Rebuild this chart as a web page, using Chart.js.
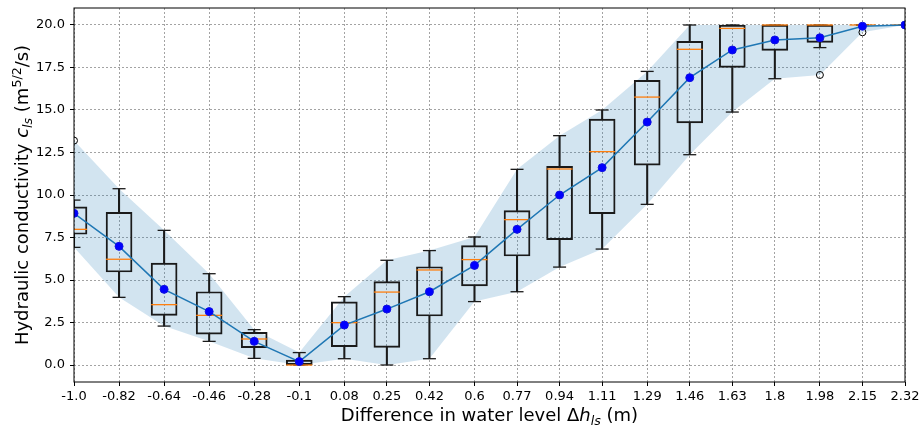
<!DOCTYPE html>
<html>
<head>
<meta charset="utf-8">
<script src="https://cdn.jsdelivr.net/npm/chart.js@4.4.1/dist/chart.umd.min.js"></script>
<style>
  html, body { margin: 0; padding: 0; background: #fff; }
  #wrap { width: 921px; height: 427px; }
</style>
</head>
<body>
<div id="wrap"><canvas id="chartCond"></canvas></div>
<script>
// valores del eje x (diferencia de nivel) y sus etiquetas
const xVals = [-1.0, -0.82, -0.64, -0.46, -0.28, -0.1, 0.08, 0.25, 0.42, 0.6, 0.77, 0.94, 1.11, 1.29, 1.46, 1.63, 1.8, 1.98, 2.15, 2.32];
const xLabels = ['-1.0', '-0.82', '-0.64', '-0.46', '-0.28', '-0.1', '0.08', '0.25', '0.42', '0.6', '0.77', '0.94', '1.11', '1.29', '1.46', '1.63', '1.8', '1.98', '2.15', '2.32'];
const yTicks = [0, 2.5, 5, 7.5, 10, 12.5, 15, 17.5, 20];

// cajas (boxplot)
const q1 = [7.69, 5.47, 2.92, 1.82, 1.02, 0.0, 1.08, 1.04, 2.88, 4.65, 6.41, 7.37, 8.9, 11.76, 14.24, 17.5, 18.51, 18.98, 20, 20];
const q3 = [9.3, 8.98, 6.0, 4.31, 1.92, 0.29, 3.71, 4.9, 5.78, 7.02, 9.08, 11.69, 14.47, 16.74, 19.04, 20, 20, 20, 20, 20];
const medians = [7.98, 6.22, 3.55, 2.92, 1.53, 0.0, 2.49, 4.29, 5.59, 6.2, 8.55, 11.53, 12.55, 15.76, 18.57, 19.8, 20, 20, 20, 20];
const whiskLo = [6.92, 3.98, 2.29, 1.39, 0.39, 0.0, 0.37, 0.0, 0.37, 3.73, 4.31, 5.76, 6.82, 9.45, 12.37, 14.88, 16.84, 18.67, 20, 20];
const whiskHi = [9.7, 10.37, 7.92, 5.37, 2.08, 0.73, 4.02, 6.16, 6.73, 7.53, 11.51, 13.49, 15.0, 17.27, 20, 20, 20, 20, 20, 20];
const outX = [-1.0, 1.98, 2.15];
const outY = [13.2, 17.06, 19.57];

// media y banda min-max
const means = [8.92, 6.98, 4.45, 3.14, 1.39, 0.2, 2.35, 3.29, 4.31, 5.86, 7.98, 10.0, 11.61, 14.29, 16.9, 18.53, 19.12, 19.25, 19.93, 20];
const bandHi = [13.2, 10.37, 7.92, 5.37, 2.08, 0.73, 4.02, 6.16, 6.73, 7.53, 11.51, 13.49, 15.0, 17.27, 20, 20, 20, 20, 20, 20];
const bandLo = [6.92, 3.98, 2.29, 1.39, 0.39, 0.0, 0.37, 0.0, 0.37, 3.73, 4.31, 5.76, 6.82, 9.45, 12.37, 14.88, 16.84, 17.06, 19.57, 20];

const pts = arr => xVals.map((x, i) => ({ x: x, y: arr[i] }));
const spans = (a, b) => xVals.map((x, i) => ({ x: x, y: [a[i], b[i]] }));

const FONT = '"DejaVu Sans", "Liberation Sans", sans-serif';

// texto con cursiva / subíndices / superíndices
function drawRich(ctx, segs, cx, cy, rot) {
    ctx.save();
    ctx.translate(cx, cy);
    ctx.rotate(rot);
    ctx.textAlign = 'left';
    ctx.textBaseline = 'alphabetic';
    ctx.fillStyle = '#000';
    const fontFor = s => (s.it ? 'italic ' : '') + (s.sm ? 12.6 : 18) + 'px ' + FONT;
    let w = 0;
    segs.forEach(s => { ctx.font = fontFor(s); s.w = ctx.measureText(s.t).width; w += s.w; });
    let x = -w / 2;
    segs.forEach(s => { ctx.font = fontFor(s); ctx.fillText(s.t, x, s.dy || 0); x += s.w; });
    ctx.restore();
}

const framePlugin = {
    id: 'frame',
    afterDatasetsDraw(chart) {
        const { ctx, chartArea: a } = chart;
        ctx.save();
        ctx.strokeStyle = '#000';
        ctx.lineWidth = 1;
        ctx.strokeRect(a.left, a.top, a.right - a.left, a.bottom - a.top);
        ctx.restore();
    },
    afterDraw(chart) {
        const { ctx, chartArea: a } = chart;
        drawRich(ctx, [
            { t: 'Difference in water level \u0394' },
            { t: 'h', it: true },
            { t: 'ls', it: true, sm: true, dy: 4 },
            { t: ' (m)' }
        ], (a.left + a.right) / 2, 421, 0);
        drawRich(ctx, [
            { t: 'Hydraulic conductivity ' },
            { t: 'c', it: true },
            { t: 'ls', it: true, sm: true, dy: 4 },
            { t: ' (m' },
            { t: '5/2', sm: true, dy: -7 },
            { t: '/s)' }
        ], 28, (a.top + a.bottom) / 2, -Math.PI / 2);
    }
};

const gridOpts = {
    offset: false, color: '#8c8c8c', lineWidth: 0.8,
    tickColor: '#000', tickLength: 4, tickWidth: 1, tickBorderDash: []
};

const ctxCond = document.getElementById('chartCond');
new Chart(ctxCond, {
    type: 'bar',
    data: {
        datasets: [
            {   // banda superior (rellena hasta la inferior)
                type: 'line', data: pts(bandHi), fill: '+1',
                backgroundColor: 'rgba(31, 119, 180, 0.2)', borderWidth: 0,
                pointRadius: 0, order: 10
            },
            {
                type: 'line', data: pts(bandLo), fill: false,
                borderWidth: 0, pointRadius: 0, order: 10
            },
            {   // cajas
                data: spans(q1, q3), grouped: false, barThickness: 26,
                backgroundColor: 'rgba(0,0,0,0)', borderColor: '#1a1a1a',
                borderWidth: 1.3, borderSkipped: false, order: 6, clip: 0
            },
            {   // bigote inferior
                data: spans(whiskLo, q1), grouped: false, barThickness: 1.4,
                backgroundColor: '#1a1a1a', borderWidth: 0, order: 6, clip: 0
            },
            {   // bigote superior
                data: spans(q3, whiskHi), grouped: false, barThickness: 1.4,
                backgroundColor: '#1a1a1a', borderWidth: 0, order: 6, clip: 0
            },
            {
                type: 'line', data: pts(whiskLo), showLine: false,
                pointStyle: 'line', pointRadius: 6.5, pointBorderWidth: 1.3,
                pointBorderColor: '#1a1a1a', order: 5, clip: 0
            },
            {
                type: 'line', data: pts(whiskHi), showLine: false,
                pointStyle: 'line', pointRadius: 6.5, pointBorderWidth: 1.3,
                pointBorderColor: '#1a1a1a', order: 5, clip: 0
            },
            {   // medianas
                type: 'line', data: pts(medians), showLine: false,
                pointStyle: 'line', pointRadius: 13, pointBorderWidth: 1.3,
                pointBorderColor: '#ff7f0e', order: 4, clip: 0
            },
            {   // valores atípicos
                type: 'line', data: outX.map((x, i) => ({ x: x, y: outY[i] })), showLine: false,
                pointRadius: 3.5, pointBorderWidth: 1, pointBorderColor: '#000',
                pointBackgroundColor: 'rgba(0,0,0,0)', order: 2, clip: 0
            },
            {   // media
                type: 'line', data: pts(means), fill: false,
                borderColor: '#1f77b4', borderWidth: 1.5, tension: 0,
                pointRadius: 4, pointBackgroundColor: '#0000ff', pointBorderColor: '#1010e0',
                pointBorderWidth: 1, order: 1, clip: 0
            }
        ]
    },
    options: {
        responsive: true,
        maintainAspectRatio: false,
        animation: false,
        events: [],
        layout: { autoPadding: false, padding: { top: 8, right: 16, left: 0, bottom: 0 } },
        plugins: { legend: { display: false }, tooltip: { enabled: false } },
        scales: {
            x: {
                type: 'linear', min: -1.0, max: 2.32, offset: false,
                afterBuildTicks: axis => { axis.ticks = xVals.map(v => ({ value: v })); },
                afterFit: axis => { axis.height = 45; axis.paddingLeft = 0; axis.paddingRight = 0; },
                ticks: {
                    autoSkip: false, maxRotation: 0, padding: 3, color: '#000',
                    font: { family: FONT, size: 13 },
                    callback: (v, i) => xLabels[i]
                },
                grid: gridOpts,
                border: { display: false, dash: [2, 2] }
            },
            y: {
                min: -1, max: 21,
                afterBuildTicks: axis => { axis.ticks = yTicks.map(v => ({ value: v })); },
                afterFit: axis => { axis.width = 74; axis.paddingTop = 0; axis.paddingBottom = 0; },
                ticks: {
                    padding: 5, color: '#000',
                    font: { family: FONT, size: 13 },
                    callback: v => v.toFixed(1)
                },
                grid: gridOpts,
                border: { display: false, dash: [2, 2] }
            }
        }
    },
    plugins: [framePlugin]
});
</script>
</body>
</html>
